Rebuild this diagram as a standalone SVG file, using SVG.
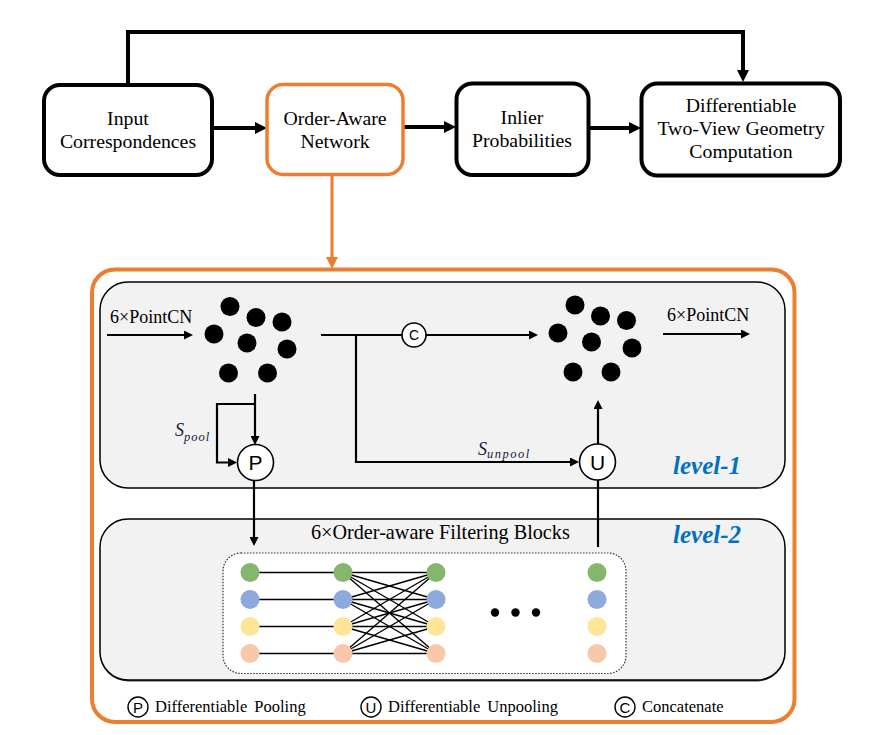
<svg xmlns="http://www.w3.org/2000/svg" width="881" height="735" viewBox="0 0 881 735">
  <style>
    .serif { font-family: "Liberation Serif", "Times New Roman", serif; fill: #000; }
    .box { fill: #fff; stroke: #000; stroke-width: 4; }
    .obox { fill: #fff; stroke: #ED7D31; stroke-width: 3.5; }
    .title { font-size: 19.8px; text-anchor: middle; }
    .thick { fill: none; stroke: #000; stroke-width: 4; }
    .thin { fill: none; stroke: #000; stroke-width: 2.2; }
    .panel { fill: #F2F2F2; stroke: #000; stroke-width: 1.5; }
    .op { fill: #fff; stroke: #000; stroke-width: 1.6; }
    .opt { font-family: "Liberation Sans", Arial, sans-serif; text-anchor: middle; fill: #000; }
    .dot { fill: #000; }
    .lvl { font-family: "Liberation Serif", "Times New Roman", serif; font-size: 25px; font-weight: bold; font-style: italic; fill: #0070C0; }
    .math { font-family: "Liberation Serif", "Times New Roman", serif; font-style: italic; fill: #1a1a33; }
    .edge { stroke: #000; stroke-width: 1.4; }
    .g { fill: #84B66E; } .b { fill: #8EA9DB; } .y { fill: #FFE597; } .p { fill: #F7C9AA; }
    .legend { font-size: 16.5px; word-spacing: 3px; }
  </style>
  <defs>
    <marker id="headBig" markerUnits="userSpaceOnUse" markerWidth="12" markerHeight="12" refX="0" refY="6" orient="auto">
      <path d="M0,0 L12,6 L0,12 z" fill="#000"/>
    </marker>
    <marker id="headOrange" markerUnits="userSpaceOnUse" markerWidth="12" markerHeight="12" refX="0" refY="6" orient="auto">
      <path d="M0,0 L12,6 L0,12 z" fill="#ED7D31"/>
    </marker>
    <marker id="headSmall" markerUnits="userSpaceOnUse" markerWidth="9" markerHeight="9" refX="0" refY="4.5" orient="auto">
      <path d="M0,0 L9,4.5 L0,9 z" fill="#000"/>
    </marker>
  </defs>

  <!-- outer orange frame around the network detail -->
  <rect x="92" y="269.5" width="702.5" height="452.5" rx="23" fill="#fff" stroke="#ED7D31" stroke-width="4"/>

  <!-- level panels -->
  <g id="level-1">
    <rect class="panel" x="100" y="282" width="685" height="206" rx="28"/>
    <text class="lvl" x="673" y="474">level-1</text>
  </g>
  <g id="level-2">
    <rect x="100" y="520.5" width="685" height="161" rx="28" fill="#404040"/>
    <rect class="panel" x="100" y="519" width="685" height="161" rx="28"/>
    <text class="lvl" x="673" y="543">level-2</text>
  </g>

  <!-- connectors -->
  <g id="connectors">
    <!-- top pipeline -->
    <polyline class="thick" points="128,85 128,32 743,32 743,70" marker-end="url(#headBig)"/>
    <line class="thick" x1="212" y1="128" x2="255" y2="128" marker-end="url(#headBig)"/>
    <line class="thick" x1="403" y1="127" x2="444" y2="127" marker-end="url(#headBig)"/>
    <line class="thick" x1="588" y1="128" x2="629" y2="128" marker-end="url(#headBig)"/>
    <line x1="332" y1="176" x2="332" y2="257" stroke="#ED7D31" stroke-width="3" marker-end="url(#headOrange)"/>

    <!-- level-1 flow -->
    <line class="thin" x1="107" y1="335" x2="184" y2="335" marker-end="url(#headSmall)"/>
    <line class="thin" x1="321" y1="335" x2="402" y2="335"/>
    <line class="thin" x1="426" y1="335" x2="529" y2="335" marker-end="url(#headSmall)"/>
    <line class="thin" x1="663" y1="334" x2="741" y2="334" marker-end="url(#headSmall)"/>
    <polyline class="thin" points="356,335 356,462 570,462" marker-end="url(#headSmall)"/>
    <line class="thin" x1="598" y1="444" x2="598" y2="409" marker-end="url(#headSmall)"/>
    <line class="thin" x1="255" y1="394" x2="255" y2="436" marker-end="url(#headSmall)"/>
    <polyline class="thin" points="255,404 217,404 217,462.5 228,462.5" marker-end="url(#headSmall)"/>

    <!-- between levels -->
    <line class="thin" x1="254" y1="481" x2="254" y2="537" marker-end="url(#headSmall)"/>
    <line class="thin" x1="598" y1="480" x2="598" y2="547"/>
  </g>

  <!-- top pipeline nodes -->
  <g id="input-correspondences">
    <rect class="box" x="44" y="85" width="168" height="90" rx="16"/>
    <text class="serif title" x="128" y="125">Input</text>
    <text class="serif title" x="128" y="148">Correspondences</text>
  </g>
  <g id="order-aware-network">
    <rect class="obox" x="267" y="84.5" width="136" height="90" rx="16"/>
    <text class="serif title" x="335" y="125">Order-Aware</text>
    <text class="serif title" x="335" y="148">Network</text>
  </g>
  <g id="inlier-probabilities">
    <rect class="box" x="456.5" y="83.5" width="132" height="91.5" rx="16"/>
    <text class="serif title" x="522" y="124">Inlier</text>
    <text class="serif title" x="522" y="147">Probabilities</text>
  </g>
  <g id="geometry-computation">
    <rect class="box" x="641.5" y="83.5" width="198.5" height="92" rx="16"/>
    <text class="serif title" x="741" y="112">Differentiable</text>
    <text class="serif title" x="741" y="135">Two-View Geometry</text>
    <text class="serif title" x="741" y="158">Computation</text>
  </g>

  <!-- level-1 labels -->
  <text class="serif" x="110" y="322.5" font-size="18">6×PointCN</text>
  <text class="serif" x="667" y="320.5" font-size="18">6×PointCN</text>
  <text class="math" x="175" y="436" font-size="18">S<tspan dy="4.5" font-size="12.5" letter-spacing="1">pool</tspan></text>
  <text class="math" x="478" y="454.5" font-size="18">S<tspan dy="3.5" font-size="12.5" letter-spacing="1.5">unpool</tspan></text>

  <!-- input point set -->
  <g id="points-in">
    <circle class="dot" cx="230" cy="306.5" r="9.5"/>
    <circle class="dot" cx="256" cy="317.5" r="9.5"/>
    <circle class="dot" cx="282" cy="322" r="9.5"/>
    <circle class="dot" cx="214" cy="334" r="9.5"/>
    <circle class="dot" cx="247" cy="343" r="9.5"/>
    <circle class="dot" cx="287" cy="349" r="9.5"/>
    <circle class="dot" cx="228.5" cy="373" r="9.5"/>
    <circle class="dot" cx="267.5" cy="373" r="9.5"/>
  </g>

  <!-- output point set -->
  <g id="points-out">
    <circle class="dot" cx="575" cy="305" r="9.5"/>
    <circle class="dot" cx="600.5" cy="316" r="9.5"/>
    <circle class="dot" cx="626.5" cy="320.5" r="9.5"/>
    <circle class="dot" cx="558" cy="333" r="9.5"/>
    <circle class="dot" cx="591.5" cy="342" r="9.5"/>
    <circle class="dot" cx="632" cy="348" r="9.5"/>
    <circle class="dot" cx="573" cy="372" r="9.5"/>
    <circle class="dot" cx="611" cy="372" r="9.5"/>
  </g>

  <g id="concat">
    <circle class="op" cx="414" cy="335" r="12"/>
    <text class="opt" x="414" y="340" font-size="14">C</text>
  </g>
  <g id="pool">
    <circle class="op" cx="255.5" cy="462.5" r="18"/>
    <text class="opt" x="255.5" y="470" font-size="21">P</text>
  </g>
  <g id="unpool">
    <circle class="op" cx="597.5" cy="462" r="18"/>
    <text class="opt" x="597.5" y="469.5" font-size="21">U</text>
  </g>

  <!-- level-2 filtering blocks -->
  <g id="filtering-blocks">
    <text class="serif" x="311" y="538.5" font-size="20.2">6×Order-aware Filtering Blocks</text>
    <rect x="223" y="553" width="403" height="120.5" rx="18" fill="#fff" stroke="#333" stroke-width="1.2" stroke-dasharray="1.5 1.5"/>
    <g class="edge">
      <line x1="250" y1="572.5" x2="343" y2="572.5"/>
      <line x1="250" y1="599.5" x2="343" y2="599.5"/>
      <line x1="250" y1="626.5" x2="343" y2="626.5"/>
      <line x1="250" y1="653.5" x2="343" y2="653.5"/>
      <line x1="343" y1="572.5" x2="436" y2="572.5"/>
      <line x1="343" y1="572.5" x2="436" y2="599.5"/>
      <line x1="343" y1="572.5" x2="436" y2="626.5"/>
      <line x1="343" y1="572.5" x2="436" y2="653.5"/>
      <line x1="343" y1="599.5" x2="436" y2="572.5"/>
      <line x1="343" y1="599.5" x2="436" y2="599.5"/>
      <line x1="343" y1="599.5" x2="436" y2="626.5"/>
      <line x1="343" y1="599.5" x2="436" y2="653.5"/>
      <line x1="343" y1="626.5" x2="436" y2="572.5"/>
      <line x1="343" y1="626.5" x2="436" y2="599.5"/>
      <line x1="343" y1="626.5" x2="436" y2="626.5"/>
      <line x1="343" y1="626.5" x2="436" y2="653.5"/>
      <line x1="343" y1="653.5" x2="436" y2="572.5"/>
      <line x1="343" y1="653.5" x2="436" y2="599.5"/>
      <line x1="343" y1="653.5" x2="436" y2="626.5"/>
      <line x1="343" y1="653.5" x2="436" y2="653.5"/>
    </g>
    <g>
      <circle class="g" cx="250" cy="572.5" r="9.5"/>
      <circle class="b" cx="250" cy="599.5" r="9.5"/>
      <circle class="y" cx="250" cy="626.5" r="9.5"/>
      <circle class="p" cx="250" cy="653.5" r="9.5"/>
      <circle class="g" cx="343" cy="572.5" r="9.5"/>
      <circle class="b" cx="343" cy="599.5" r="9.5"/>
      <circle class="y" cx="343" cy="626.5" r="9.5"/>
      <circle class="p" cx="343" cy="653.5" r="9.5"/>
      <circle class="g" cx="436" cy="572.5" r="9.5"/>
      <circle class="b" cx="436" cy="599.5" r="9.5"/>
      <circle class="y" cx="436" cy="626.5" r="9.5"/>
      <circle class="p" cx="436" cy="653.5" r="9.5"/>
      <circle class="g" cx="597" cy="572.5" r="9.5"/>
      <circle class="b" cx="597" cy="599.5" r="9.5"/>
      <circle class="y" cx="597" cy="626.5" r="9.5"/>
      <circle class="p" cx="597" cy="653.5" r="9.5"/>
    </g>
    <circle class="dot" cx="495" cy="612.5" r="4.2"/>
    <circle class="dot" cx="515.5" cy="612.5" r="4.2"/>
    <circle class="dot" cx="536" cy="612.5" r="4.2"/>
  </g>

  <!-- legend -->
  <g id="legend">
    <circle cx="138" cy="707" r="10" fill="#fff" stroke="#000" stroke-width="1.4"/>
    <text class="opt" x="138" y="712.5" font-size="15">P</text>
    <text class="serif legend" x="155" y="712">Differentiable Pooling</text>
    <circle cx="371" cy="707" r="10" fill="#fff" stroke="#000" stroke-width="1.4"/>
    <text class="opt" x="371" y="712.5" font-size="15">U</text>
    <text class="serif legend" x="388" y="712">Differentiable Unpooling</text>
    <circle cx="625" cy="707" r="10" fill="#fff" stroke="#000" stroke-width="1.4"/>
    <text class="opt" x="625" y="712.5" font-size="15">C</text>
    <text class="serif legend" x="642" y="712">Concatenate</text>
  </g>
</svg>
